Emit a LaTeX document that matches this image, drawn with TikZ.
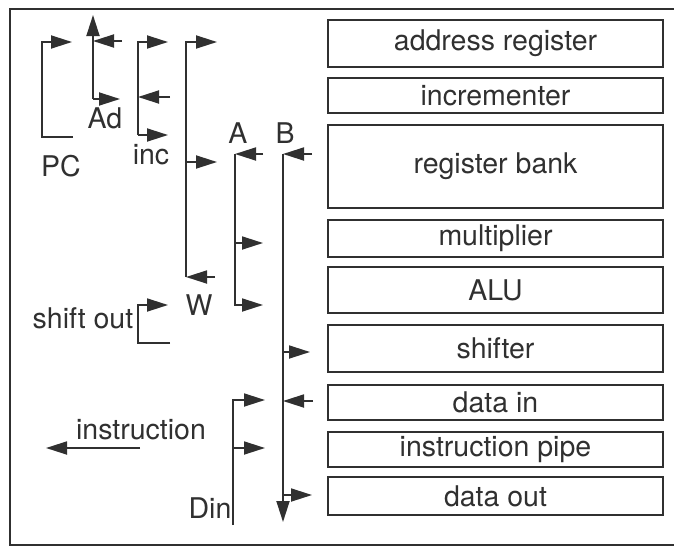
\documentclass[tikz,border=0pt]{standalone}
\usepackage{fontspec}
\setmainfont{TeX Gyre Heros}
\usepackage{tikz}
\usetikzlibrary{arrows.meta, positioning}

\definecolor{ink}{HTML}{303030}

\begin{document}
\begin{tikzpicture}[
    x=1pt, y=-1pt,
    font=\fontsize{28.5}{32}\selectfont,
    unit/.style={draw=ink, line width=2.8pt, minimum width=335pt, inner sep=0pt, text=ink},
    bus/.style={-{Triangle[length=21pt, width=13pt]}, draw=ink, line width=1.8pt},
    lbl/.style={inner sep=0pt, text=ink}
]
\useasboundingbox (0,0) rectangle (674,549);
\draw[ink, line width=2pt] (674,9) -- (10,9) -- (10,545) -- (674,545);

% datapath units
\node[unit, minimum height=47pt] (addr) at (495.5,43.5) {address register};
\node[unit, minimum height=35pt] (incr) at (495.5,95.5) {incrementer};
\node[unit, minimum height=83pt] (regs) at (495.5,166.5) {register bank};
\node[unit, minimum height=37pt] (mult) at (495.5,238.5) {multiplier};
\node[unit, minimum height=46pt] (alu) at (495.5,290) {ALU};
\node[unit, minimum height=47pt] (shift) at (495.5,348.5) {shifter};
\node[unit, minimum height=35pt] (din) at (495.5,402.5) {data in};
\node[unit, minimum height=35pt] (ipipe) at (495.5,449.5) {instruction pipe};
\node[unit, minimum height=38pt] (dout) at (495.5,496) {data out};

% bus labels
\node[lbl] (pcl) at (61,166) {PC};
\node[lbl] (adl) at (105,118) {Ad};
\node[lbl] (incl) at (151,155) {inc};
\node[lbl] (wl) at (199,305) {W};
\node[lbl] (al) at (238,133) {A};
\node[lbl] (bl) at (285,133) {B};
\node[lbl] (shl) at (83,318) {shift out};
\node[lbl] (dinl) at (210,508) {Din};
\node[lbl] (insl) at (141,430) {instruction};

% bus points
\coordinate (pct) at (42,42);  \coordinate (pcb) at (42,137);
\coordinate (pco) at (72,42);  \coordinate (pce) at (73,137);
\coordinate (adtop) at (93,15); \coordinate (adj) at (93,41);
\coordinate (adbot) at (93,99); \coordinate (adin) at (122,41);
\coordinate (adout) at (120,99);
\coordinate (inct) at (138,42); \coordinate (incm) at (138,97);
\coordinate (incb) at (138,135); \coordinate (inco1) at (168,42);
\coordinate (incin) at (170,97); \coordinate (inco2) at (168,135);
\coordinate (wt) at (186,42); \coordinate (wm) at (186,162);
\coordinate (wb) at (186,277); \coordinate (wo1) at (217,42);
\coordinate (wo2) at (217,162); \coordinate (win) at (215,277);
\coordinate (at) at (235,154); \coordinate (am) at (235,243);
\coordinate (ab) at (235,305); \coordinate (ain) at (263,154);
\coordinate (ao1) at (263,243); \coordinate (ao2) at (263,305);
\coordinate (bt) at (283,154); \coordinate (bsh) at (283,352);
\coordinate (bdi) at (283,401); \coordinate (bdo) at (283,495);
\coordinate (bend) at (283,522); \coordinate (bin1) at (312,154);
\coordinate (bo1) at (310,352); \coordinate (bin2) at (313,401);
\coordinate (bo2) at (312,495);
\coordinate (st) at (138,305); \coordinate (sb) at (138,343);
\coordinate (so) at (168,305); \coordinate (se) at (170,343);
\coordinate (dt) at (233,400); \coordinate (dm) at (233,448);
\coordinate (db) at (233,525); \coordinate (do1) at (265,400);
\coordinate (do2) at (265,448);
\coordinate (iin) at (140,448); \coordinate (iout) at (46,448);

% buses
\draw[bus] (pce) -- (pcb) -- (pct) -- (pco);
\draw[bus] (adbot) -- (adtop);
\draw[bus] (adin) -- (adj);
\draw[bus] (adbot) -- (adout);
\draw[bus] (incb) -- (inct) -- (inco1);
\draw[bus] (incb) -- (inco2);
\draw[bus] (incin) -- (incm);
\draw[bus] (wb) -- (wt) -- (wo1);
\draw[bus] (wm) -- (wo2);
\draw[bus] (win) -- (wb);
\draw[bus] (at) -- (ab) -- (ao2);
\draw[bus] (am) -- (ao1);
\draw[bus] (ain) -- (at);
\draw[bus] (bt) -- (bend);
\draw[bus] (bin1) -- (bt);
\draw[bus] (bsh) -- (bo1);
\draw[bus] (bin2) -- (bdi);
\draw[bus] (bdo) -- (bo2);
\draw[bus] (se) -- (sb) -- (st) -- (so);
\draw[bus] (db) -- (dt) -- (do1);
\draw[bus] (dm) -- (do2);
\draw[bus] (iin) -- (iout);
\end{tikzpicture}
\end{document}
